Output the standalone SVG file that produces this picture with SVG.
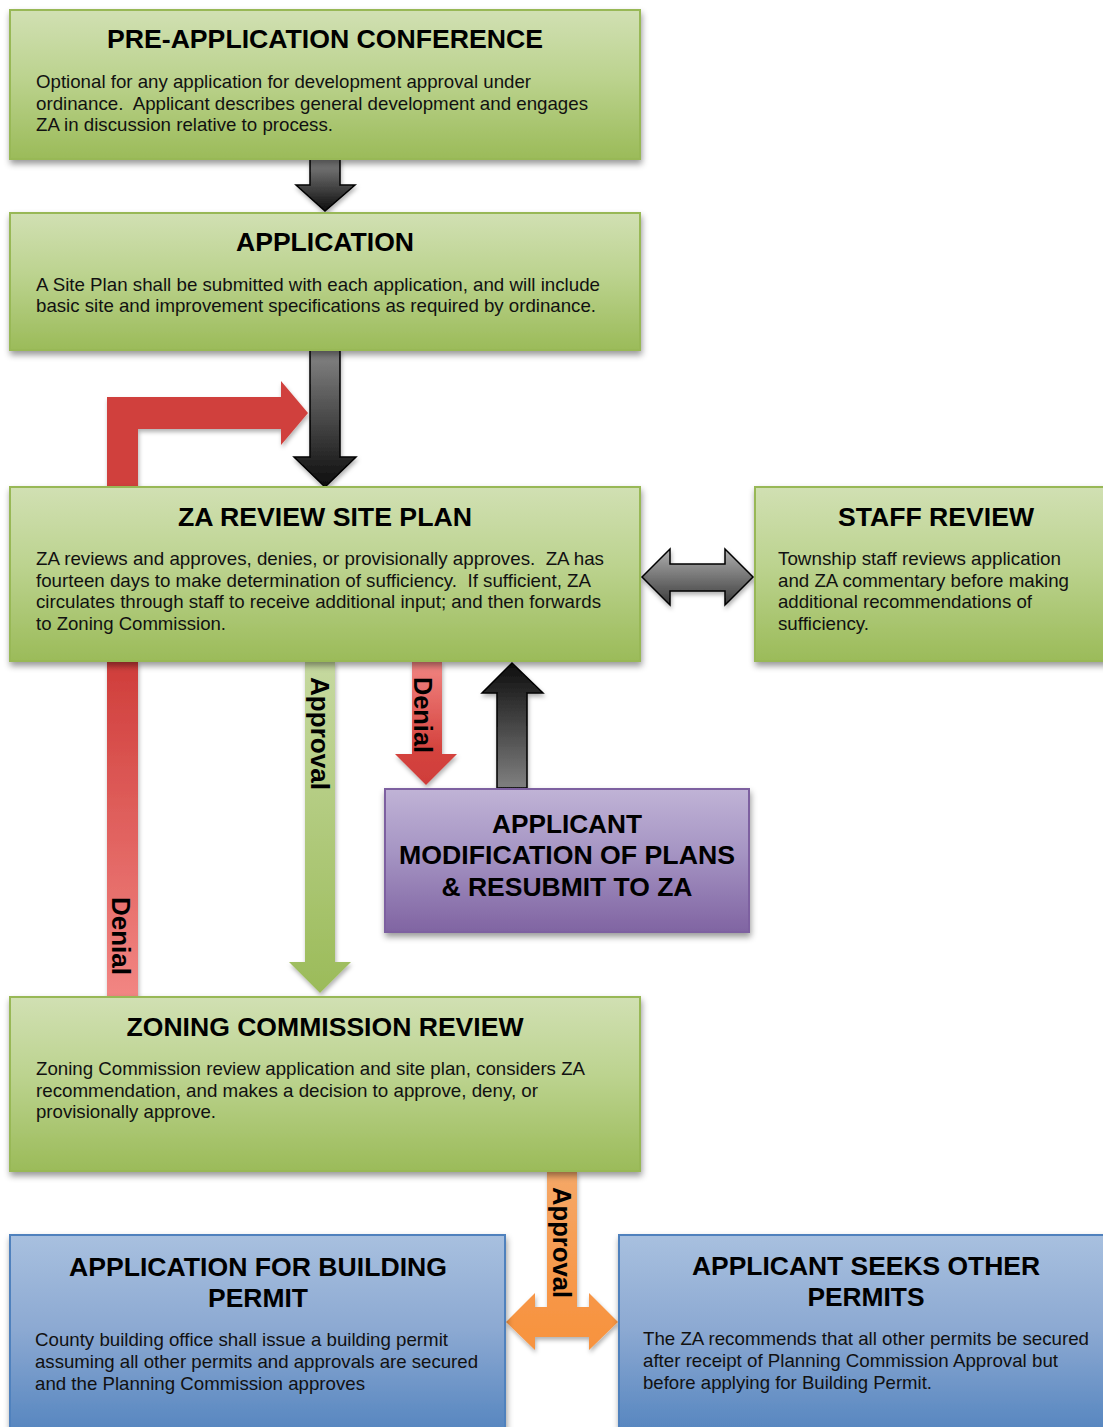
<svg xmlns="http://www.w3.org/2000/svg" width="1103" height="1427" viewBox="0 0 1103 1427">
<defs>
  <linearGradient id="gGreen" x1="0" y1="0" x2="0" y2="1">
    <stop offset="0" stop-color="#D1E0B3"/>
    <stop offset="0.45" stop-color="#BCD38F"/>
    <stop offset="1" stop-color="#9BBB59"/>
  </linearGradient>
  <linearGradient id="gPurple" x1="0" y1="0" x2="0" y2="1">
    <stop offset="0" stop-color="#C0B3D6"/>
    <stop offset="0.45" stop-color="#A594C3"/>
    <stop offset="1" stop-color="#8064A2"/>
  </linearGradient>
  <linearGradient id="gBlue" x1="0" y1="0" x2="0" y2="1">
    <stop offset="0" stop-color="#A8C0DF"/>
    <stop offset="0.45" stop-color="#8CA9D2"/>
    <stop offset="1" stop-color="#4F81BD"/>
  </linearGradient>
  <linearGradient id="gDarkDown" x1="0" y1="0" x2="0" y2="1">
    <stop offset="0" stop-color="#858585"/>
    <stop offset="1" stop-color="#0D0D0D"/>
  </linearGradient>
  <linearGradient id="gDarkUp" x1="0" y1="1" x2="0" y2="0">
    <stop offset="0" stop-color="#808080"/>
    <stop offset="1" stop-color="#0D0D0D"/>
  </linearGradient>
  <linearGradient id="gGray" x1="0" y1="0" x2="0" y2="1">
    <stop offset="0" stop-color="#B0B0B0"/>
    <stop offset="1" stop-color="#3A3A3A"/>
  </linearGradient>
  <linearGradient id="gRedLong" x1="0" y1="0" x2="0" y2="1">
    <stop offset="0" stop-color="#CF3D3A"/>
    <stop offset="1" stop-color="#F28683"/>
  </linearGradient>
  <linearGradient id="gRedShort" gradientUnits="userSpaceOnUse" x1="0" y1="661" x2="0" y2="785">
    <stop offset="0" stop-color="#F28683"/>
    <stop offset="0.7" stop-color="#D5443F"/>
    <stop offset="1" stop-color="#CF3D3A"/>
  </linearGradient>
  <linearGradient id="gApprove" gradientUnits="userSpaceOnUse" x1="0" y1="661" x2="0" y2="993">
    <stop offset="0" stop-color="#C6D9A0"/>
    <stop offset="1" stop-color="#9BBB59"/>
  </linearGradient>
  <linearGradient id="gOrange" gradientUnits="userSpaceOnUse" x1="0" y1="1171" x2="0" y2="1350">
    <stop offset="0" stop-color="#F5A868"/>
    <stop offset="0.7" stop-color="#F79646"/>
    <stop offset="1" stop-color="#F7933E"/>
  </linearGradient>
  <filter id="shadow" x="-10%" y="-10%" width="120%" height="130%">
    <feDropShadow dx="1" dy="4" stdDeviation="3" flood-color="#000" flood-opacity="0.4"/>
  </filter>
  <filter id="ashadow" x="-20%" y="-10%" width="140%" height="130%">
    <feDropShadow dx="1" dy="3" stdDeviation="2" flood-color="#000" flood-opacity="0.3"/>
  </filter>
</defs>
<style>
  .green { fill: url(#gGreen); stroke: #98B856; stroke-width: 2; filter: url(#shadow); }
  .purple { fill: url(#gPurple); stroke: #7D61A0; stroke-width: 2; filter: url(#shadow); }
  .blue { fill: url(#gBlue); stroke: #4F81BD; stroke-width: 2; filter: url(#shadow); }
  .title { font-family: "Liberation Sans", Arial, sans-serif; font-weight: bold; font-size: 26px; fill: #000; text-anchor: middle; }
  .body { font-family: "Liberation Sans", Arial, sans-serif; font-size: 18.5px; fill: #111; white-space: pre; }
  .lbl { font-family: "Liberation Sans", Arial, sans-serif; font-weight: bold; font-size: 26px; fill: #000; }
  .dark { stroke: #000; stroke-width: 1.5; filter: url(#ashadow); }
  .arr { filter: url(#ashadow); }
</style>

<g id="connectors">
  <!-- pre-app to application -->
  <polygon class="dark" fill="url(#gDarkDown)" points="310,159 340,159 340,185 355,185 325,211 296,185 310,185"/>
  <!-- application to ZA review -->
  <polygon class="dark" fill="url(#gDarkDown)" points="310,350 340,350 340,457 356,457 325,487 294,457 310,457"/>
  <!-- red loop back (denial from zoning to ZA review) -->
  <rect class="arr" x="107" y="661" width="31" height="336" fill="url(#gRedLong)"/>
  <polygon class="arr" fill="#D0403C" points="107,487 107,397 281,397 281,381 308,413 281,445 281,429 138,429 138,487"/>
  <text class="lbl" transform="translate(112,897) rotate(90)" textLength="78" lengthAdjust="spacingAndGlyphs">Denial</text>
  <!-- ZA review approval to zoning -->
  <polygon class="arr" fill="url(#gApprove)" points="305,661 335,661 335,962 351,962 320,993 289,962 305,962"/>
  <text class="lbl" transform="translate(311,677) rotate(90)" textLength="113" lengthAdjust="spacingAndGlyphs">Approval</text>
  <!-- ZA review denial to applicant modification -->
  <polygon class="arr" fill="url(#gRedShort)" points="412,661 442,661 442,754 457,754 426,785 395,754 412,754"/>
  <text class="lbl" transform="translate(414,677) rotate(90)" textLength="76" lengthAdjust="spacingAndGlyphs">Denial</text>
  <!-- resubmit up arrow -->
  <polygon class="dark" fill="url(#gDarkUp)" points="497,788 497,693 482,693 512,663 543,693 527,693 527,788"/>
  <!-- ZA review <-> staff review -->
  <polygon class="dark" fill="url(#gGray)" points="642,577 670,549 670,564 725,564 725,549 753,577 725,605 725,591 670,591 670,605"/>
  <!-- zoning approval to permits -->
  <polygon class="arr" fill="url(#gOrange)" points="547,1171 577,1171 577,1307 589,1307 589,1293 618,1322 589,1350 589,1337 535,1337 535,1350 506,1322 535,1293 535,1307 547,1307"/>
  <text class="lbl" transform="translate(553,1187) rotate(90)" textLength="111" lengthAdjust="spacingAndGlyphs">Approval</text>
</g>

<g id="node-preapp">
  <rect class="green" x="10" y="10" width="630" height="149"/>
  <text class="title" x="325" y="48" font-size="28" textLength="436" lengthAdjust="spacingAndGlyphs">PRE-APPLICATION CONFERENCE</text>
  <text class="body" x="36" y="88" textLength="495" lengthAdjust="spacingAndGlyphs">Optional for any application for development approval under</text>
  <text class="body" x="36" y="110" textLength="552" lengthAdjust="spacingAndGlyphs">ordinance.  Applicant describes general development and engages</text>
  <text class="body" x="36" y="131" textLength="297" lengthAdjust="spacingAndGlyphs">ZA in discussion relative to process.</text>
</g>

<g id="node-application">
  <rect class="green" x="10" y="213" width="630" height="137"/>
  <text class="title" x="325" y="251" textLength="178" lengthAdjust="spacingAndGlyphs">APPLICATION</text>
  <text class="body" x="36" y="291" textLength="564" lengthAdjust="spacingAndGlyphs">A Site Plan shall be submitted with each application, and will include</text>
  <text class="body" x="36" y="312" textLength="560" lengthAdjust="spacingAndGlyphs">basic site and improvement specifications as required by ordinance.</text>
</g>

<g id="node-za-review">
  <rect class="green" x="10" y="487" width="630" height="174"/>
  <text class="title" x="325" y="526" textLength="294" lengthAdjust="spacingAndGlyphs">ZA REVIEW SITE PLAN</text>
  <text class="body" x="36" y="565" textLength="568" lengthAdjust="spacingAndGlyphs">ZA reviews and approves, denies, or provisionally approves.  ZA has</text>
  <text class="body" x="36" y="587" textLength="555" lengthAdjust="spacingAndGlyphs">fourteen days to make determination of sufficiency.  If sufficient, ZA</text>
  <text class="body" x="36" y="608" textLength="565" lengthAdjust="spacingAndGlyphs">circulates through staff to receive additional input; and then forwards</text>
  <text class="body" x="36" y="630" textLength="190" lengthAdjust="spacingAndGlyphs">to Zoning Commission.</text>
</g>

<g id="node-staff-review">
  <rect class="green" x="755" y="487" width="360" height="174"/>
  <text class="title" x="936" y="526" textLength="196" lengthAdjust="spacingAndGlyphs">STAFF REVIEW</text>
  <text class="body" x="778" y="565" textLength="283" lengthAdjust="spacingAndGlyphs">Township staff reviews application</text>
  <text class="body" x="778" y="587" textLength="291" lengthAdjust="spacingAndGlyphs">and ZA commentary before making</text>
  <text class="body" x="778" y="608" textLength="254" lengthAdjust="spacingAndGlyphs">additional recommendations of</text>
  <text class="body" x="778" y="630" textLength="91" lengthAdjust="spacingAndGlyphs">sufficiency.</text>
</g>

<g id="node-modification">
  <rect class="purple" x="385" y="789" width="364" height="143"/>
  <text class="title" x="567" y="833" textLength="150" lengthAdjust="spacingAndGlyphs">APPLICANT</text>
  <text class="title" x="567" y="864" textLength="336" lengthAdjust="spacingAndGlyphs">MODIFICATION OF PLANS</text>
  <text class="title" x="567" y="896" textLength="251" lengthAdjust="spacingAndGlyphs">&amp; RESUBMIT TO ZA</text>
</g>

<g id="node-zoning">
  <rect class="green" x="10" y="997" width="630" height="174"/>
  <text class="title" x="325" y="1036" textLength="397" lengthAdjust="spacingAndGlyphs">ZONING COMMISSION REVIEW</text>
  <text class="body" x="36" y="1075" textLength="549" lengthAdjust="spacingAndGlyphs">Zoning Commission review application and site plan, considers ZA</text>
  <text class="body" x="36" y="1097" textLength="502" lengthAdjust="spacingAndGlyphs">recommendation, and makes a decision to approve, deny, or</text>
  <text class="body" x="36" y="1118" textLength="180" lengthAdjust="spacingAndGlyphs">provisionally approve.</text>
</g>

<g id="node-building-permit">
  <rect class="blue" x="10" y="1235" width="495" height="210"/>
  <text class="title" x="258" y="1276" textLength="378" lengthAdjust="spacingAndGlyphs">APPLICATION FOR BUILDING</text>
  <text class="title" x="258" y="1307" textLength="100" lengthAdjust="spacingAndGlyphs">PERMIT</text>
  <text class="body" x="35" y="1346" textLength="413" lengthAdjust="spacingAndGlyphs">County building office shall issue a building permit</text>
  <text class="body" x="35" y="1368" textLength="443" lengthAdjust="spacingAndGlyphs">assuming all other permits and approvals are secured</text>
  <text class="body" x="35" y="1390" textLength="330" lengthAdjust="spacingAndGlyphs">and the Planning Commission approves</text>
</g>

<g id="node-other-permits">
  <rect class="blue" x="619" y="1235" width="500" height="210"/>
  <text class="title" x="866" y="1275" textLength="348" lengthAdjust="spacingAndGlyphs">APPLICANT SEEKS OTHER</text>
  <text class="title" x="866" y="1306" textLength="117" lengthAdjust="spacingAndGlyphs">PERMITS</text>
  <text class="body" x="643" y="1345" textLength="446" lengthAdjust="spacingAndGlyphs">The ZA recommends that all other permits be secured</text>
  <text class="body" x="643" y="1367" textLength="415" lengthAdjust="spacingAndGlyphs">after receipt of Planning Commission Approval but</text>
  <text class="body" x="643" y="1389" textLength="289" lengthAdjust="spacingAndGlyphs">before applying for Building Permit.</text>
</g>
</svg>
